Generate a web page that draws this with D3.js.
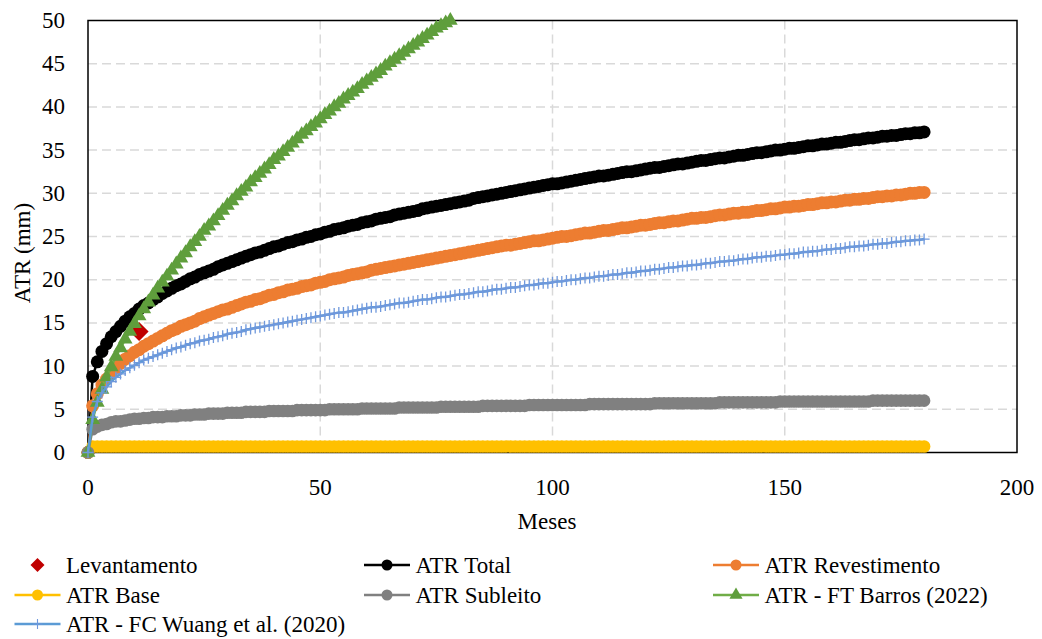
<!DOCTYPE html>
<html>
<head>
<meta charset="utf-8">
<script src="https://cdn.jsdelivr.net/npm/d3@7"></script>
</head>
<body style="margin:0;overflow:hidden">
<svg id="chart" width="1042" height="639"></svg>
<script>
// Rut depth (ATR, mm) per month; array index = month
const levantamentoMes = [11];
const levantamento = [14.0];

const atrTotal = [0,
  8.8,10.5,11.7,12.6,13.4,14.0,14.6,15.2,15.7,16.1,
  16.6,17.0,17.3,17.7,18.0,18.4,18.7,19.0,19.3,19.5,
  19.8,20.1,20.3,20.6,20.8,21.0,21.2,21.5,21.7,21.9,
  22.1,22.3,22.5,22.7,22.9,23.1,23.2,23.4,23.6,23.8,
  23.9,24.1,24.3,24.4,24.6,24.7,24.9,25.0,25.2,25.3,
  25.5,25.6,25.8,25.9,26.0,26.2,26.3,26.4,26.6,26.7,
  26.8,27.0,27.1,27.2,27.3,27.5,27.6,27.7,27.8,27.9,
  28.0,28.2,28.3,28.4,28.5,28.6,28.7,28.8,28.9,29.0,
  29.1,29.2,29.4,29.5,29.6,29.7,29.8,29.9,30.0,30.1,
  30.2,30.3,30.4,30.5,30.6,30.7,30.8,30.9,31.0,31.1,
  31.1,31.2,31.3,31.4,31.5,31.6,31.7,31.8,31.9,32.0,
  32.0,32.1,32.2,32.3,32.4,32.5,32.5,32.6,32.7,32.8,
  32.9,33.0,33.0,33.1,33.2,33.3,33.4,33.4,33.5,33.6,
  33.7,33.8,33.8,33.9,34.0,34.1,34.1,34.2,34.3,34.4,
  34.4,34.5,34.6,34.7,34.7,34.8,34.9,35.0,35.0,35.1,
  35.2,35.2,35.3,35.4,35.5,35.5,35.6,35.7,35.7,35.8,
  35.9,35.9,36.0,36.1,36.2,36.2,36.3,36.4,36.4,36.5,
  36.6,36.6,36.7,36.7,36.8,36.9,36.9,37.0,37.0,37.1];

const atrRevestimento = [0,
  5.4,6.8,7.8,8.5,9.2,9.8,10.3,10.8,11.2,11.6,
  11.9,12.3,12.6,12.9,13.2,13.5,13.8,14.1,14.3,14.6,
  14.8,15.0,15.2,15.5,15.7,15.9,16.1,16.3,16.5,16.6,
  16.8,17.0,17.2,17.4,17.5,17.7,17.8,18.0,18.2,18.3,
  18.5,18.6,18.8,18.9,19.0,19.2,19.3,19.4,19.6,19.7,
  19.8,20.0,20.1,20.2,20.3,20.5,20.6,20.7,20.8,20.9,
  21.1,21.2,21.3,21.4,21.5,21.6,21.7,21.8,21.9,22.0,
  22.1,22.2,22.3,22.4,22.5,22.6,22.7,22.8,22.9,23.0,
  23.1,23.2,23.3,23.4,23.5,23.6,23.7,23.8,23.9,24.0,
  24.0,24.1,24.2,24.3,24.4,24.5,24.5,24.6,24.7,24.8,
  24.9,25.0,25.0,25.1,25.2,25.3,25.4,25.4,25.5,25.6,
  25.7,25.7,25.8,25.9,26.0,26.0,26.1,26.2,26.3,26.3,
  26.4,26.5,26.6,26.6,26.7,26.8,26.8,26.9,27.0,27.1,
  27.1,27.2,27.2,27.3,27.4,27.5,27.5,27.6,27.7,27.7,
  27.8,27.8,27.9,28.0,28.0,28.1,28.2,28.2,28.3,28.4,
  28.4,28.5,28.5,28.6,28.7,28.7,28.8,28.9,28.9,29.0,
  29.0,29.1,29.2,29.2,29.3,29.3,29.4,29.4,29.5,29.6,
  29.6,29.7,29.7,29.8,29.8,29.9,30.0,30.0,30.1,30.1];

const atrBase = [0,
  0.7,0.7,0.7,0.7,0.7,0.7,0.7,0.7,0.7,0.7,
  0.7,0.7,0.7,0.7,0.7,0.7,0.7,0.7,0.7,0.7,
  0.7,0.7,0.7,0.7,0.7,0.7,0.7,0.7,0.7,0.7,
  0.7,0.7,0.7,0.7,0.7,0.7,0.7,0.7,0.7,0.7,
  0.7,0.7,0.7,0.7,0.7,0.7,0.7,0.7,0.7,0.7,
  0.7,0.7,0.7,0.7,0.7,0.7,0.7,0.7,0.7,0.7,
  0.7,0.7,0.7,0.7,0.7,0.7,0.7,0.7,0.7,0.7,
  0.7,0.7,0.7,0.7,0.7,0.7,0.7,0.7,0.7,0.7,
  0.7,0.7,0.7,0.7,0.7,0.7,0.7,0.7,0.7,0.7,
  0.7,0.7,0.7,0.7,0.7,0.7,0.7,0.7,0.7,0.7,
  0.7,0.7,0.7,0.7,0.7,0.7,0.7,0.7,0.7,0.7,
  0.7,0.7,0.7,0.7,0.7,0.7,0.7,0.7,0.7,0.7,
  0.7,0.7,0.7,0.7,0.7,0.7,0.7,0.7,0.7,0.7,
  0.7,0.7,0.7,0.7,0.7,0.7,0.7,0.7,0.7,0.7,
  0.7,0.7,0.7,0.7,0.7,0.7,0.7,0.7,0.7,0.7,
  0.7,0.7,0.7,0.7,0.7,0.7,0.7,0.7,0.7,0.7,
  0.7,0.7,0.7,0.7,0.7,0.7,0.7,0.7,0.7,0.7,
  0.7,0.7,0.7,0.7,0.7,0.7,0.7,0.7,0.7,0.7];

const atrSubleito = [0,
  2.7,3.0,3.2,3.3,3.5,3.6,3.6,3.7,3.8,3.9,
  3.9,4.0,4.0,4.1,4.1,4.1,4.2,4.2,4.2,4.3,
  4.3,4.3,4.4,4.4,4.4,4.5,4.5,4.5,4.5,4.6,
  4.6,4.6,4.6,4.7,4.7,4.7,4.7,4.7,4.8,4.8,
  4.8,4.8,4.8,4.8,4.9,4.9,4.9,4.9,4.9,4.9,
  4.9,5.0,5.0,5.0,5.0,5.0,5.0,5.0,5.1,5.1,
  5.1,5.1,5.1,5.1,5.1,5.1,5.2,5.2,5.2,5.2,
  5.2,5.2,5.2,5.2,5.2,5.3,5.3,5.3,5.3,5.3,
  5.3,5.3,5.3,5.3,5.4,5.4,5.4,5.4,5.4,5.4,
  5.4,5.4,5.4,5.4,5.5,5.5,5.5,5.5,5.5,5.5,
  5.5,5.5,5.5,5.5,5.5,5.5,5.5,5.6,5.6,5.6,
  5.6,5.6,5.6,5.6,5.6,5.6,5.6,5.6,5.6,5.6,
  5.6,5.7,5.7,5.7,5.7,5.7,5.7,5.7,5.7,5.7,
  5.7,5.7,5.7,5.7,5.7,5.8,5.8,5.8,5.8,5.8,
  5.8,5.8,5.8,5.8,5.8,5.8,5.8,5.8,5.9,5.9,
  5.9,5.9,5.9,5.9,5.9,5.9,5.9,5.9,5.9,5.9,
  5.9,5.9,5.9,5.9,5.9,5.9,5.9,5.9,6.0,6.0,
  6.0,6.0,6.0,6.0,6.0,6.0,6.0,6.0,6.0,6.0];

const atrBarros = [0,
  3.8,5.8,7.3,8.7,9.9,11.1,12.1,13.1,14.0,14.9,
  15.8,16.6,17.4,18.2,19.0,19.7,20.4,21.1,21.8,22.5,
  23.1,23.8,24.4,25.0,25.7,26.2,26.8,27.4,28.0,28.6,
  29.1,29.7,30.2,30.7,31.3,31.8,32.3,32.8,33.3,33.9,
  34.3,34.8,35.3,35.8,36.3,36.8,37.2,37.7,38.1,38.6,
  39.1,39.5,40.0,40.4,40.9,41.3,41.7,42.1,42.6,43.0,
  43.4,43.8,44.2,44.7,45.1,45.5,45.9,46.3,46.7,47.1,
  47.5,47.9,48.3,48.7,49.1,49.4,49.7,50.0];

const atrWuang = [0,
  4.1,5.9,6.9,7.6,8.2,8.7,9.1,9.5,9.8,10.1,
  10.4,10.7,10.9,11.1,11.3,11.5,11.7,11.9,12.1,12.2,
  12.4,12.6,12.7,12.9,13.0,13.1,13.3,13.4,13.5,13.7,
  13.8,13.9,14.0,14.2,14.3,14.4,14.5,14.6,14.7,14.8,
  14.9,15.0,15.1,15.2,15.3,15.4,15.5,15.6,15.7,15.8,
  15.9,16.0,16.1,16.2,16.2,16.3,16.4,16.5,16.6,16.7,
  16.8,16.8,16.9,17.0,17.1,17.2,17.3,17.3,17.4,17.5,
  17.6,17.7,17.7,17.8,17.9,18.0,18.0,18.1,18.2,18.3,
  18.3,18.4,18.5,18.6,18.6,18.7,18.8,18.9,18.9,19.0,
  19.1,19.1,19.2,19.3,19.4,19.4,19.5,19.6,19.6,19.7,
  19.8,19.8,19.9,20.0,20.0,20.1,20.2,20.2,20.3,20.4,
  20.4,20.5,20.6,20.6,20.7,20.8,20.8,20.9,21.0,21.0,
  21.1,21.2,21.2,21.3,21.4,21.4,21.5,21.6,21.6,21.7,
  21.7,21.8,21.9,21.9,22.0,22.1,22.1,22.2,22.2,22.3,
  22.4,22.4,22.5,22.6,22.6,22.7,22.7,22.8,22.9,22.9,
  23.0,23.0,23.1,23.2,23.2,23.3,23.3,23.4,23.5,23.5,
  23.6,23.6,23.7,23.8,23.8,23.9,23.9,24.0,24.1,24.1,
  24.2,24.2,24.3,24.4,24.4,24.5,24.5,24.6,24.6,24.7];

const xTickValues = [0, 50, 100, 150, 200];
const yTickValues = [0, 5, 10, 15, 20, 25, 30, 35, 40, 45, 50];

const FONT = 23;
const svg = d3.select("#chart");
const plot = { left: 88, right: 1017, top: 20.5, bottom: 452.5 };
const x = d3.scaleLinear().domain([0, 200]).range([plot.left, plot.right]);
const y = d3.scaleLinear().domain([0, 50]).range([plot.bottom, plot.top]);

// white background
svg.append("rect").attr("width", 1042).attr("height", 639).attr("fill", "#fff");

// dashed gridlines
const grid = svg.append("g").attr("stroke", "#d9d9d9").attr("stroke-width", 1.5)
  .attr("stroke-dasharray", "9,5").attr("fill", "none");
grid.selectAll("line.h").data(yTickValues.filter(v => v > 0 && v < 50)).join("line")
  .attr("class", "h").attr("x1", plot.left).attr("x2", plot.right)
  .attr("y1", d => y(d)).attr("y2", d => y(d));
grid.selectAll("line.v").data(xTickValues.filter(v => v > 0 && v < 200)).join("line")
  .attr("class", "v").attr("y1", plot.top).attr("y2", plot.bottom)
  .attr("x1", d => x(d)).attr("x2", d => x(d));

// plot frame
svg.append("rect").attr("x", plot.left).attr("y", plot.top)
  .attr("width", plot.right - plot.left).attr("height", plot.bottom - plot.top)
  .attr("fill", "none").attr("stroke", "#000").attr("stroke-width", 1.5);

const line = d3.line().x((d, i) => x(i)).y(d => y(d));
const layer = svg.append("g");

function circleSeries(values, color, r) {
  const g = layer.append("g");
  g.append("path").attr("d", line(values)).attr("fill", "none")
    .attr("stroke", color).attr("stroke-width", 2.5);
  g.selectAll("circle").data(values).join("circle")
    .attr("cx", (d, i) => x(i)).attr("cy", d => y(d)).attr("r", r).attr("fill", color);
}

// Levantamento (survey point)
const diamond = s => `M0,${-s}L${s},0L0,${s}L${-s},0Z`;
layer.append("g").selectAll("path").data(levantamento).join("path")
  .attr("transform", (d, i) => `translate(${x(levantamentoMes[i])},${y(d)})`)
  .attr("d", diamond(9.5)).attr("fill", "#c00000");

circleSeries(atrTotal, "#000000", 6.5);
circleSeries(atrRevestimento, "#ed7d31", 6.5);
circleSeries(atrBase, "#ffc000", 6.3);
circleSeries(atrSubleito, "#808080", 6.3);

// FT Barros (2022): triangles
const gB = layer.append("g");
gB.append("path").attr("d", line(atrBarros)).attr("fill", "none")
  .attr("stroke", "#70ad47").attr("stroke-width", 2.5);
const tri = d3.symbol().type(d3.symbolTriangle).size(95)();
gB.selectAll("path.m").data(atrBarros).join("path").attr("class", "m")
  .attr("transform", (d, i) => `translate(${x(i)},${y(d)})`)
  .attr("d", tri).attr("fill", "#5f9e3c");

// FC Wuang et al. (2020): line with plus markers
const gW = layer.append("g");
gW.append("path").attr("d", line(atrWuang)).attr("fill", "none")
  .attr("stroke", "#5b9bd5").attr("stroke-width", 2.5);
const plus = s => `M${-s},0H${s}M0,${-s}V${s}`;
gW.selectAll("path.m").data(atrWuang).join("path").attr("class", "m")
  .attr("transform", (d, i) => `translate(${x(i)},${y(d)})`)
  .attr("d", plus(5.5)).attr("fill", "none").attr("stroke", "#6f98dc").attr("stroke-width", 1.3);

// legend symbols
const legendItems = [
  { name: "Levantamento", kind: "diamond", color: "#c00000", col: 0, row: 0 },
  { name: "ATR Total", kind: "circle", color: "#000000", col: 1, row: 0 },
  { name: "ATR Revestimento", kind: "circle", color: "#ed7d31", col: 2, row: 0 },
  { name: "ATR Base", kind: "circle", color: "#ffc000", col: 0, row: 1 },
  { name: "ATR Subleito", kind: "circle", color: "#808080", col: 1, row: 1 },
  { name: "ATR - FT Barros (2022)", kind: "triangle", color: "#70ad47", col: 2, row: 1 },
  { name: "ATR - FC Wuang et al. (2020)", kind: "plus", color: "#5b9bd5", col: 0, row: 2 }
];
const colX = [37.5, 387, 736];
const rowY = [565, 595, 624];
const legend = svg.append("g");
legendItems.forEach(it => {
  const g = legend.append("g").attr("transform", `translate(${colX[it.col]},${rowY[it.row]})`);
  if (it.kind !== "diamond") {
    g.append("line").attr("x1", -23).attr("x2", 23).attr("stroke", it.color).attr("stroke-width", 2.5);
  }
  if (it.kind === "diamond") g.append("path").attr("d", diamond(7)).attr("fill", it.color);
  if (it.kind === "circle") g.append("circle").attr("r", 5.5).attr("fill", it.color);
  if (it.kind === "triangle") g.append("path").attr("d", d3.symbol().type(d3.symbolTriangle).size(75)()).attr("fill", "#5f9e3c");
  if (it.kind === "plus") g.append("path").attr("d", plus(5)).attr("stroke", "#6f98dc").attr("stroke-width", 1.1);
});

// every label in one list, joined as text directly on the svg
const labels = [
  ...yTickValues.map(v => ({ t: String(v), x: plot.left - 23, y: y(v) + 7.5, a: "end" })),
  ...xTickValues.map(v => ({ t: String(v), x: x(v), y: plot.bottom + 42.5, a: "middle" })),
  { t: "Meses", x: 547, y: 529, a: "middle" },
  { t: "ATR (mm)", x: 30, y: 253, a: "middle", r: -90 },
  ...legendItems.map(it => ({ t: it.name, x: colX[it.col] + 28.5, y: rowY[it.row] + 7.5, a: "start" }))
];
svg.selectAll("text.lbl").data(labels).join("text")
  .attr("class", "lbl")
  .attr("x", d => d.x).attr("y", d => d.y)
  .attr("font-size", FONT)
  .attr("font-family", "'Liberation Serif'")
  .attr("text-anchor", d => d.a)
  .attr("transform", d => d.r ? `rotate(${d.r},${d.x},${d.y})` : null)
  .text(d => d.t);
</script>
</body>
</html>
